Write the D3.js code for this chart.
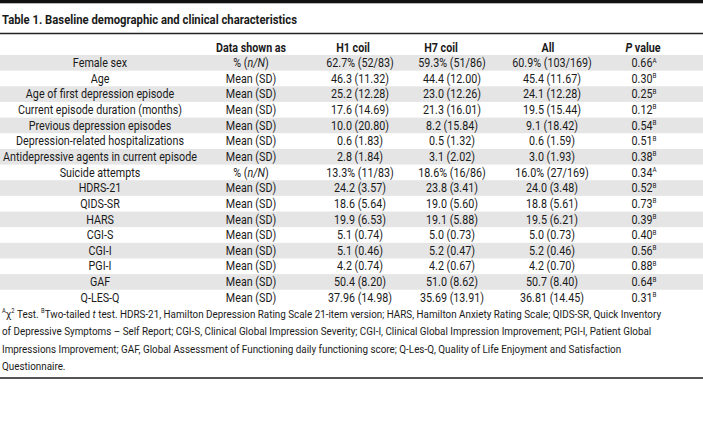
<!DOCTYPE html>
<html>
<head>
<meta charset="utf-8">
<script src="https://cdn.jsdelivr.net/npm/d3@7"></script>
<style>
  html, body { margin: 0; padding: 0; background: #fff; }
  svg { display: block; }
  text { font-family: Roboto, "Noto Sans", sans-serif; fill: #1a1a1a; }
</style>
</head>
<body>
<svg id="chart" width="703" height="436"></svg>
<script>
const title = "Table 1. Baseline demographic and clinical characteristics";
const headers = ["", "Data shown as", "H1 coil", "H7 coil", "All", "P value"];
const variables = [
  "Female sex", "Age", "Age of first depression episode", "Current episode duration (months)",
  "Previous depression episodes", "Depression-related hospitalizations",
  "Antidepressive agents in current episode", "Suicide attempts", "HDRS-21", "QIDS-SR",
  "HARS", "CGI-S", "CGI-I", "PGI-I", "GAF", "Q-LES-Q"
];
const shownAs = ["pct", "mean", "mean", "mean", "mean", "mean", "mean", "pct", "mean", "mean",
  "mean", "mean", "mean", "mean", "mean", "mean"];
const h1Coil = ["62.7% (52/83)", "46.3 (11.32)", "25.2 (12.28)", "17.6 (14.69)", "10.0 (20.80)",
  "0.6 (1.83)", "2.8 (1.84)", "13.3% (11/83)", "24.2 (3.57)", "18.6 (5.64)", "19.9 (6.53)",
  "5.1 (0.74)", "5.1 (0.46)", "4.2 (0.74)", "50.4 (8.20)", "37.96 (14.98)"];
const h7Coil = ["59.3% (51/86)", "44.4 (12.00)", "23.0 (12.26)", "21.3 (16.01)", "8.2 (15.84)",
  "0.5 (1.32)", "3.1 (2.02)", "18.6% (16/86)", "23.8 (3.41)", "19.0 (5.60)", "19.1 (5.88)",
  "5.0 (0.73)", "5.2 (0.47)", "4.2 (0.67)", "51.0 (8.62)", "35.69 (13.91)"];
const allPatients = ["60.9% (103/169)", "45.4 (11.67)", "24.1 (12.28)", "19.5 (15.44)", "9.1 (18.42)",
  "0.6 (1.59)", "3.0 (1.93)", "16.0% (27/169)", "24.0 (3.48)", "18.8 (5.61)", "19.5 (6.21)",
  "5.0 (0.73)", "5.2 (0.46)", "4.2 (0.70)", "50.7 (8.40)", "36.81 (14.45)"];
const pValues = ["0.66", "0.30", "0.25", "0.12", "0.54", "0.51", "0.38", "0.34", "0.52", "0.73",
  "0.39", "0.40", "0.56", "0.88", "0.64", "0.31"];
const pTests = ["A", "B", "B", "B", "B", "B", "B", "A", "B", "B", "B", "B", "B", "B", "B", "B"];
const footnoteLines = [
  [["sup","A"],["n","\u03C7"],["sup","2"],["n"," Test. "],["sup","B"],["n","Two-tailed "],["i","t"],["n"," test. HDRS-21, Hamilton Depression Rating Scale 21-item version; HARS, Hamilton Anxiety Rating Scale; QIDS-SR, Quick Inventory"]],
  [["n","of Depressive Symptoms \u2013 Self Report; CGI-S, Clinical Global Impression Severity; CGI-I, Clinical Global Impression Improvement; PGI-I, Patient Global"]],
  [["n","Impressions Improvement; GAF, Global Assessment of Functioning daily functioning score; Q-Les-Q, Quality of Life Enjoyment and Satisfaction"]],
  [["n","Questionnaire."]]
];

const W = 703;
const svg = d3.select("#chart");
const fs = 12, fsFoot = 11.8, fsTitle = 13.2;

// measure natural widths to emulate the narrow typeface of the original
function natural(str, size, weight) {
  const t = svg.append("text").attr("font-size", size).attr("font-weight", weight || 400).text(str);
  const w = t.node().getComputedTextLength();
  t.remove();
  return w;
}
const sxTitle = 295 / natural(title, fsTitle, 700);
const sxBody = 194 / natural("Antidepressive agents in current episode", fs);

// top bar and title
svg.append("rect").attr("x", 0).attr("y", 0).attr("width", W).attr("height", 3.3).attr("fill", "#111");
svg.append("text").attr("transform", `translate(2,24) scale(${sxTitle},1)`)
  .attr("font-size", fsTitle).attr("font-weight", 700).text(title);
svg.append("line").attr("x1", 0).attr("x2", W).attr("y1", 33.5).attr("y2", 33.5)
  .attr("stroke", "#222").attr("stroke-width", 1.3);

// scales
const y = d3.scaleBand().domain(d3.range(variables.length)).range([55, 55 + 15.65 * variables.length]).padding(0);
const colCenter = d3.scaleOrdinal().domain(d3.range(6)).range([100, 251, 360, 452, 552, 644]);
const headCenter = d3.scaleOrdinal().domain(d3.range(6)).range([100, 251, 353, 441, 548, 643]);

// bands
svg.append("g").selectAll("rect").data(variables.map((d, i) => i).filter(i => i % 2 === 0))
  .join("rect").attr("x", 0).attr("width", W).attr("y", i => y(i)).attr("height", y.bandwidth())
  .attr("fill", "#e5e5e5");

// headers
const hg = svg.append("g");
headers.forEach((h, j) => {
  if (!h) return;
  const t = hg.append("text").attr("transform", `translate(${headCenter(j)},51.5) scale(${sxBody},1)`)
    .attr("text-anchor", "middle").attr("font-size", fs).attr("font-weight", 700);
  if (h === "P value") {
    t.append("tspan").attr("font-style", "italic").text("P");
    t.append("tspan").text(" value");
  } else t.text(h);
});

// rows
const rows = svg.append("g").selectAll("g").data(variables.map((v, i) => i)).join("g")
  .attr("transform", i => `translate(0,${y(i) + y.bandwidth() / 2 + 4.2})`);
function cell(sel, j) {
  return sel.append("text").attr("transform", `translate(${colCenter(j)},0) scale(${sxBody},1)`)
    .attr("text-anchor", "middle").attr("font-size", fs);
}
cell(rows, 0).text(i => variables[i]);
cell(rows, 1).each(function(i) {
  const t = d3.select(this);
  if (shownAs[i] === "pct") {
    t.append("tspan").text("% (");
    t.append("tspan").attr("font-style", "italic").text("n/N");
    t.append("tspan").text(")");
  } else t.text("Mean (SD)");
});
[h1Coil, h7Coil, allPatients].forEach((arr, k) => {
  cell(rows, k + 2).text(i => arr[i]);
});
cell(rows, 5).each(function(i) {
  const t = d3.select(this);
  t.append("tspan").text(pValues[i]);
  t.append("tspan").attr("font-size", 7).attr("dy", -4.5).text(pTests[i]);
});

// footnotes
const fg = svg.append("g");
let sxFoot = 1;
footnoteLines.forEach((parts, li) => {
  const t = fg.append("text").attr("font-size", fsFoot);
  let raised = false;
  parts.forEach(([kind, s]) => {
    const sp = t.append("tspan").text(s);
    if (kind === "sup") {
      sp.attr("font-size", 7);
      if (!raised) { sp.attr("dy", -4.5); raised = true; }
    } else {
      if (raised) { sp.attr("dy", 4.5); raised = false; }
      if (kind === "i") sp.attr("font-style", "italic");
    }
  });
  if (li === 0) sxFoot = 660 / t.node().getComputedTextLength();
  t.attr("transform", `translate(2,${317.5 + li * 17.6}) scale(${sxFoot},1)`);
});

svg.append("line").attr("x1", 0).attr("x2", W).attr("y1", 378).attr("y2", 378)
  .attr("stroke", "#555").attr("stroke-width", 2);
</script>
</body>
</html>
